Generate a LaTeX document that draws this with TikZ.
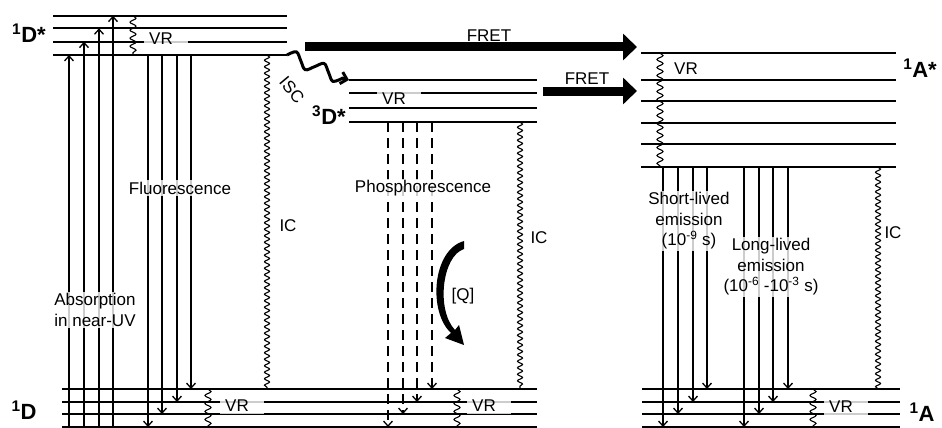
\documentclass[tikz,border=0pt]{standalone}
\usepackage{fontspec}
\setmainfont{Liberation Sans}
\usetikzlibrary{arrows.meta,positioning,calc,decorations.pathmorphing}

\begin{document}
\begin{tikzpicture}[
  x=1pt, y=-1pt,
  font=\fontsize{17}{20.5}\selectfont,
  level/.style={line width=1.7pt},
  arr/.style={-{Straight Barb[length=5pt,width=9pt]}, line width=1.3pt},
  arrd/.style={arr, dash pattern=on 10pt off 6pt},
  icwave/.style={decorate, decoration={snake, segment length=6.5pt, amplitude=2.5pt}, line width=1.1pt},
  vrwave/.style={decorate, decoration={snake, segment length=8pt, amplitude=3pt}, line width=1.1pt},
  lab/.style={fill=white, fill opacity=0.8, text opacity=1, inner sep=1.5pt, align=center},
  vrlab/.style={lab, anchor=west, text width=34pt, align=left, inner xsep=5pt, inner ysep=2pt},
  statelab/.style={font=\fontsize{22}{24}\selectfont\bfseries},
  fret/.style={-{Triangle[length=14pt,width=26pt]}, line width=9pt},
  iscarr/.style={-{Straight Barb[length=6pt,width=12pt]}, line width=3pt}
]
\useasboundingbox (0,0) rectangle (942,428);

% ---------- Energy levels ----------
\foreach \y [count=\i] in {55,41.7,28.3,15.7}
  \draw[level] (53,\y) coordinate (dx\i) -- (287,\y) coordinate (dxe\i);
\foreach \y [count=\i] in {389,402,414,427}
  \draw[level] (62,\y) coordinate (dg\i) -- (537,\y);
\foreach \y [count=\i] in {122,108,93,80}
  \draw[level] (349,\y) coordinate (tx\i) -- (537,\y);
\foreach \y [count=\i] in {167,144,123,101,80,53}
  \draw[level] (641,\y) coordinate (ax\i) -- (896,\y);
\foreach \y [count=\i] in {389,402,414,427}
  \draw[level] (642,\y) coordinate (ag\i) -- (900,\y);

% ---------- State labels ----------
\node[statelab] (d1s) at (29,33)   {\textsuperscript{1}D*};
\node[statelab] (d0)  at (24,410)  {\textsuperscript{1}D};
\node[statelab] (d3s) at (329,115) {\textsuperscript{3}D*};
\node[statelab] (a1s) at (920,68)  {\textsuperscript{1}A*};
\node[statelab] (a0)  at (922,412) {\textsuperscript{1}A};

% ---------- Donor: absorption, fluorescence, relaxation ----------
\foreach \x/\i in {69/1,84/2,99/3,113/4}
  \draw[arr] (\x,0 |- dg4) -- (\x,0 |- dx\i);
\foreach \x/\i in {148/4,162/3,177/2,191/1}
  \draw[arr] (\x,0 |- dx1) -- (\x,0 |- dg\i);
\draw[vrwave] (133,0 |- dx4) -- (133,0 |- dx1);
\draw[vrwave] (208,0 |- dg1) -- (208,0 |- dg4);
\draw[icwave] (267,0 |- dx1) -- (267,0 |- dg1);

% ---------- Intersystem crossing and triplet ----------
\draw[iscarr] plot[smooth, tension=0.6] coordinates {(dxe1) (296.4,51.9) (300.8,60.8)
  (305.2,69.7) (314.7,66.6) (324.1,63.5) (328.5,72.4) (332.9,81.3) (342.4,78.2)} -- (tx4);
\foreach \x/\i in {388/4,403/3,417/2,432/1}
  \draw[arrd] (\x,0 |- tx1) -- (\x,0 |- dg\i);
\draw[icwave] (520,0 |- tx1) -- (520,0 |- dg1);
\draw[vrwave] (457,0 |- dg1) -- (457,0 |- dg4);

% ---------- Quenching ----------
\fill (464,241) .. controls (432,250) and (428,312) .. (451,333)
  -- (445,338) -- (464,345) -- (459,325) -- (455,330)
  .. controls (436,310) and (442,256) .. (464,249) -- cycle;

% ---------- FRET ----------
\coordinate (f1a) at (305,47);
\coordinate (f1b) at (637,47);
\coordinate (f2a) at (543,91);
\coordinate (f2b) at (637,91);
\draw[fret] (f1a) -- (f1b);
\draw[fret] (f2a) -- (f2b);

% ---------- Acceptor ----------
\draw[vrwave] (660,0 |- ax6) -- (660,0 |- ax1);
\foreach \x/\i in {663/4,678/3,693/2,707/1,744/4,759/3,773/2,788/1}
  \draw[arr] (\x,0 |- ax1) -- (\x,0 |- ag\i);
\draw[icwave] (878,0 |- ax1) -- (878,0 |- ag1);
\draw[vrwave] (813,0 |- ag1) -- (813,0 |- ag4);

% ---------- Labels ----------
\node[vrlab] (vrd1) at (144,39)  {VR};
\node[vrlab] (vrd0) at (220,406) {VR};
\node[vrlab] (vrt)  at (377,99)  {VR};
\node[vrlab] (vrt0) at (467,406) {VR};
\node[vrlab] (vra0) at (824,407) {VR};
\node (vra1) at (686,69) {VR};
\node[lab] (absl)   at (95,310)  {Absorption\\in near-UV};
\node[lab] (fluol)  at (180,188) {Fluorescence};
\node[lab] (icd)    at (288,226) {IC};
\node[rotate=-50, inner sep=0pt] (iscl) at (292,90) {ISC};
\node[lab] (phosl)  at (423,188) {Phosphorescence};
\node[lab] (ict)    at (539,238) {IC};
\node (ql) at (463,296) {[Q]};
\node (fretl1) at (489,36) {FRET};
\node (fretl2) at (587,79) {FRET};
\node[lab] (shortl) at (689,221) {Short-lived\\emission\\(10\textsuperscript{-9} s)};
\node[lab] (longl)  at (771,267) {Long-lived\\emission\\(10\textsuperscript{-6} -10\textsuperscript{-3} s)};
\node[lab] (ica)    at (893,233) {IC};
\end{tikzpicture}
\end{document}
